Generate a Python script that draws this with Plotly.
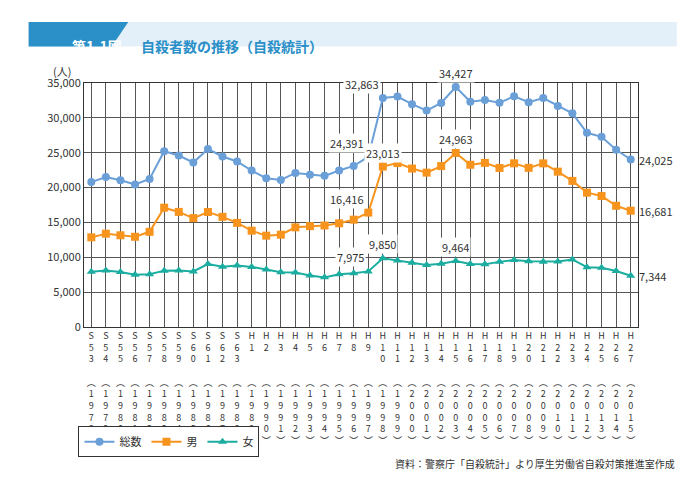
import plotly.graph_objects as go

years = list(range(1978, 2016))
era = ["S53", "S54", "S55", "S56", "S57", "S58", "S59", "S60", "S61", "S62", "S63",
       "H1", "H2", "H3", "H4", "H5", "H6", "H7", "H8", "H9", "H10", "H11", "H12",
       "H13", "H14", "H15", "H16", "H17", "H18", "H19", "H20", "H21", "H22", "H23",
       "H24", "H25", "H26", "H27"]
total = [20788, 21503, 21048, 20434, 21228, 25202, 24596, 23599, 25524, 24460,
         23742, 22436, 21346, 21084, 22104, 21851, 21679, 22445, 23104, 24391,
         32863, 33048, 31957, 31042, 32143, 34427, 32325, 32552, 32155, 33093,
         32249, 32845, 31690, 30651, 27858, 27283, 25427, 24025]
male = [12859, 13386, 13155, 12942, 13654, 17116, 16508, 15624, 16497, 15802,
        14934, 13818, 13102, 13242, 14296, 14468, 14560, 14874, 15393, 16416,
        23013, 23512, 22727, 22144, 23080, 24963, 23272, 23540, 22813, 23478,
        22831, 23472, 22283, 20955, 19273, 18787, 17386, 16681]
female = [t - m for t, m in zip(total, male)]

def vert(s, n):
    chars = list(s) + [" "] * (n - len(s))
    return "<br>".join(chars)

ticktext = [vert(e, 3) + "<br> <br>" + vert("︵" + str(y) + "︶", 6) for e, y in zip(era, years)]

fig = go.Figure()
series = [("総数", total, "#6a9fd8", "circle"),
          ("男", male, "#f7941d", "square"),
          ("女", female, "#1aada0", "triangle-up")]
for name, vals, col, sym in series:
    fig.add_trace(go.Scatter(x=years, y=vals, name=name, mode="lines+markers",
                             line=dict(color=col, width=2),
                             marker=dict(symbol=sym, size=8, color=col)))

labels = [(1997, total, "left"), (1998, total, "left"), (2003, total, "center"),
          (1997, male, "left"), (1998, male, "center"), (2003, male, "center"),
          (1997, female, "left"), (1998, female, "center"), (2003, female, "center")]
for yr, vals, xa in labels:
    v = vals[years.index(yr)]
    fig.add_annotation(x=yr, y=v, text=f"{v:,}", showarrow=False,
                       xanchor="center" if xa == "center" else "right",
                       yanchor="bottom", yshift=4, xshift=0 if xa == "center" else -2,
                       font=dict(size=11, color="#333"), bgcolor="white")
for vals in (total, male, female):
    fig.add_annotation(x=2015, y=vals[-1], text=f"{vals[-1]:,}", showarrow=False,
                       xanchor="left", xshift=6, font=dict(size=11, color="#333"))

fig.update_xaxes(tickmode="array", tickvals=years, ticktext=ticktext, range=[1977.5, 2015.5],
                 showgrid=True, gridcolor="#555", gridwidth=1, showline=True, linecolor="#333",
                 mirror=True, tickfont=dict(size=9, color="#333"), tickangle=0)
fig.update_yaxes(range=[0, 35000], dtick=5000, tickformat=",", showgrid=True, gridcolor="#555",
                 showline=True, linecolor="#333", mirror=True, tickfont=dict(size=11, color="#333"))

fig.add_annotation(xref="paper", yref="paper", x=-0.02, y=1.01, text="(人)", showarrow=False,
                   xanchor="right", yanchor="bottom", font=dict(size=11, color="#333"))

# header (paper coords; plot height = 482-75-163 = 244)
fig.add_shape(type="rect", xref="paper", yref="paper", x0=-0.1, x1=1.07, y0=1.15, y1=1.25,
              fillcolor="#e3eff9", line_width=0, layer="below")
fig.add_shape(type="path", xref="paper", yref="paper",
              path="M -0.1,1.15 L 0.05,1.15 L 0.08,1.25 L -0.1,1.25 Z",
              fillcolor="#2b8fc8", line_width=0, layer="below")
fig.add_annotation(xref="paper", yref="paper", x=-0.025, y=1.2, text="<b>第1-1図</b>", showarrow=False,
                   font=dict(size=14, color="white"))
fig.add_annotation(xref="paper", yref="paper", x=0.1, y=1.2, text="<b>自殺者数の推移（自殺統計）</b>",
                   showarrow=False, xanchor="left", font=dict(size=14, color="#2b8fc8"))
fig.add_annotation(xref="paper", yref="paper", x=1.07, y=-0.6,
                   text="資料：警察庁「自殺統計」より厚生労働省自殺対策推進室作成",
                   showarrow=False, xanchor="right", font=dict(size=10, color="#333"))

fig.update_layout(width=687, height=482, plot_bgcolor="white", paper_bgcolor="white",
                  font=dict(family="Noto Sans CJK JP"),
                  margin=dict(l=76, r=57, t=75, b=163, autoexpand=False),
                  legend=dict(orientation="h", x=-0.01, y=-0.47, xanchor="left", yanchor="middle",
                              bordercolor="#333", borderwidth=1, font=dict(size=11, color="#333")))

fig.write_html("out.html")
